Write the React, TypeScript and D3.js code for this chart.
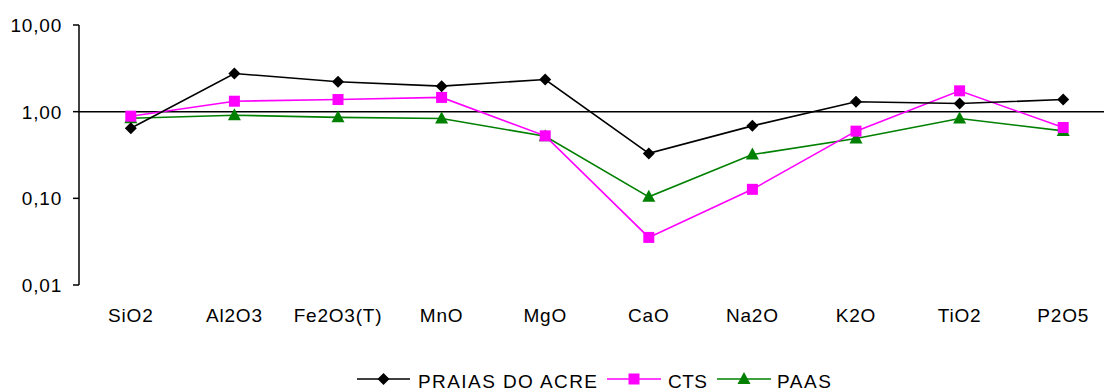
import React from "react";
import * as d3 from "d3";

const categories = ["SiO2", "Al2O3", "Fe2O3(T)", "MnO", "MgO", "CaO", "Na2O", "K2O", "TiO2", "P2O5"];
const praias = [0.645, 2.76, 2.21, 1.97, 2.35, 0.33, 0.686, 1.3, 1.24, 1.38];
const cts = [0.887, 1.32, 1.38, 1.46, 0.526, 0.0354, 0.127, 0.596, 1.74, 0.657];
const paas = [0.84, 0.91, 0.86, 0.835, 0.52, 0.104, 0.32, 0.49, 0.835, 0.6];
const yTicks = [0.01, 0.1, 1, 10];
const fmt = (v: number) => v.toFixed(2).replace(".", ",");

const W = 1104;
const H = 390;
const FONT = "'Liberation Sans', Arial, sans-serif";

type Shape = "diamond" | "square" | "triangle";

function Marker({ shape, x, y, color }: { shape: Shape; x: number; y: number; color: string }) {
  if (shape === "diamond") {
    const r = 6;
    return <path d={`M${x},${y - r}L${x + r},${y}L${x},${y + r}L${x - r},${y}Z`} fill={color} />;
  }
  if (shape === "square") {
    const s = 11;
    return <rect x={x - s / 2} y={y - s / 2} width={s} height={s} fill={color} />;
  }
  const w = 13;
  const h = 12;
  return <path d={`M${x},${y - h / 2 - 1}L${x + w / 2},${y + h / 2 - 1}L${x - w / 2},${y + h / 2 - 1}Z`} fill={color} />;
}

const series: { name: string; values: number[]; color: string; shape: Shape }[] = [
  { name: "PAAS", values: paas, color: "#008000", shape: "triangle" },
  { name: "CTS", values: cts, color: "#FF00FF", shape: "square" },
  { name: "PRAIAS DO ACRE", values: praias, color: "#000000", shape: "diamond" },
];

export default function App() {
  const x = d3.scaleBand<string>().domain(categories).range([79, 1115]).padding(0);
  const y = d3.scaleLog().domain([0.01, 10]).range([285, 25]);
  const cx = (c: string) => (x(c) as number) + x.bandwidth() / 2;
  const line = d3
    .line<number>()
    .x((_, i) => cx(categories[i]))
    .y((v) => y(v));

  const legend = [
    { name: "PRAIAS DO ACRE", color: "#000000", shape: "diamond" as Shape, x0: 357, x1: 410, tx: 418, tl: 179 },
    { name: "CTS", color: "#FF00FF", shape: "square" as Shape, x0: 607, x1: 661, tx: 668, tl: 39 },
    { name: "PAAS", color: "#008000", shape: "triangle" as Shape, x0: 717, x1: 771, tx: 777, tl: 54 },
  ];

  return (
    <svg
      width={W}
      height={H}
      style={{ position: "absolute", left: 0, top: 0, background: "#fff" }}
      fontFamily={FONT}
    >
      {/* y axis */}
      <line x1={79} x2={79} y1={y(10)} y2={y(0.01)} stroke="#000" strokeWidth={1.5} />
      {yTicks.map((t) => (
        <g key={t}>
          <line x1={73} x2={79} y1={y(t)} y2={y(t)} stroke="#000" strokeWidth={1.5} />
          <text x={62} y={y(t)} dy="0.36em" textAnchor="end" fontSize={19} letterSpacing={0.8} fill="#000">
            {fmt(t)}
          </text>
        </g>
      ))}
      {/* category axis crossing at 1 */}
      <line x1={79} x2={W} y1={y(1)} y2={y(1)} stroke="#000" strokeWidth={1.5} />
      {categories.map((c) => (
        <text key={c} x={cx(c)} y={321.5} textAnchor="middle" fontSize={19} letterSpacing={0.8} fill="#000">
          {c}
        </text>
      ))}
      {series.map((s) => (
        <g key={s.name}>
          <path d={line(s.values) || ""} fill="none" stroke={s.color} strokeWidth={1.6} />
          {s.values.map((v, i) => (
            <Marker key={i} shape={s.shape} x={cx(categories[i])} y={y(v)} color={s.color} />
          ))}
        </g>
      ))}
      {/* legend */}
      {legend.map((l) => (
        <g key={l.name}>
          <line x1={l.x0} x2={l.x1} y1={379} y2={379} stroke={l.color} strokeWidth={1.6} />
          <Marker shape={l.shape} x={(l.x0 + l.x1) / 2} y={379} color={l.color} />
          <text x={l.tx} y={387.5} fontSize={19} fill="#000" textLength={l.tl} lengthAdjust="spacing">
            {l.name}
          </text>
        </g>
      ))}
    </svg>
  );
}
